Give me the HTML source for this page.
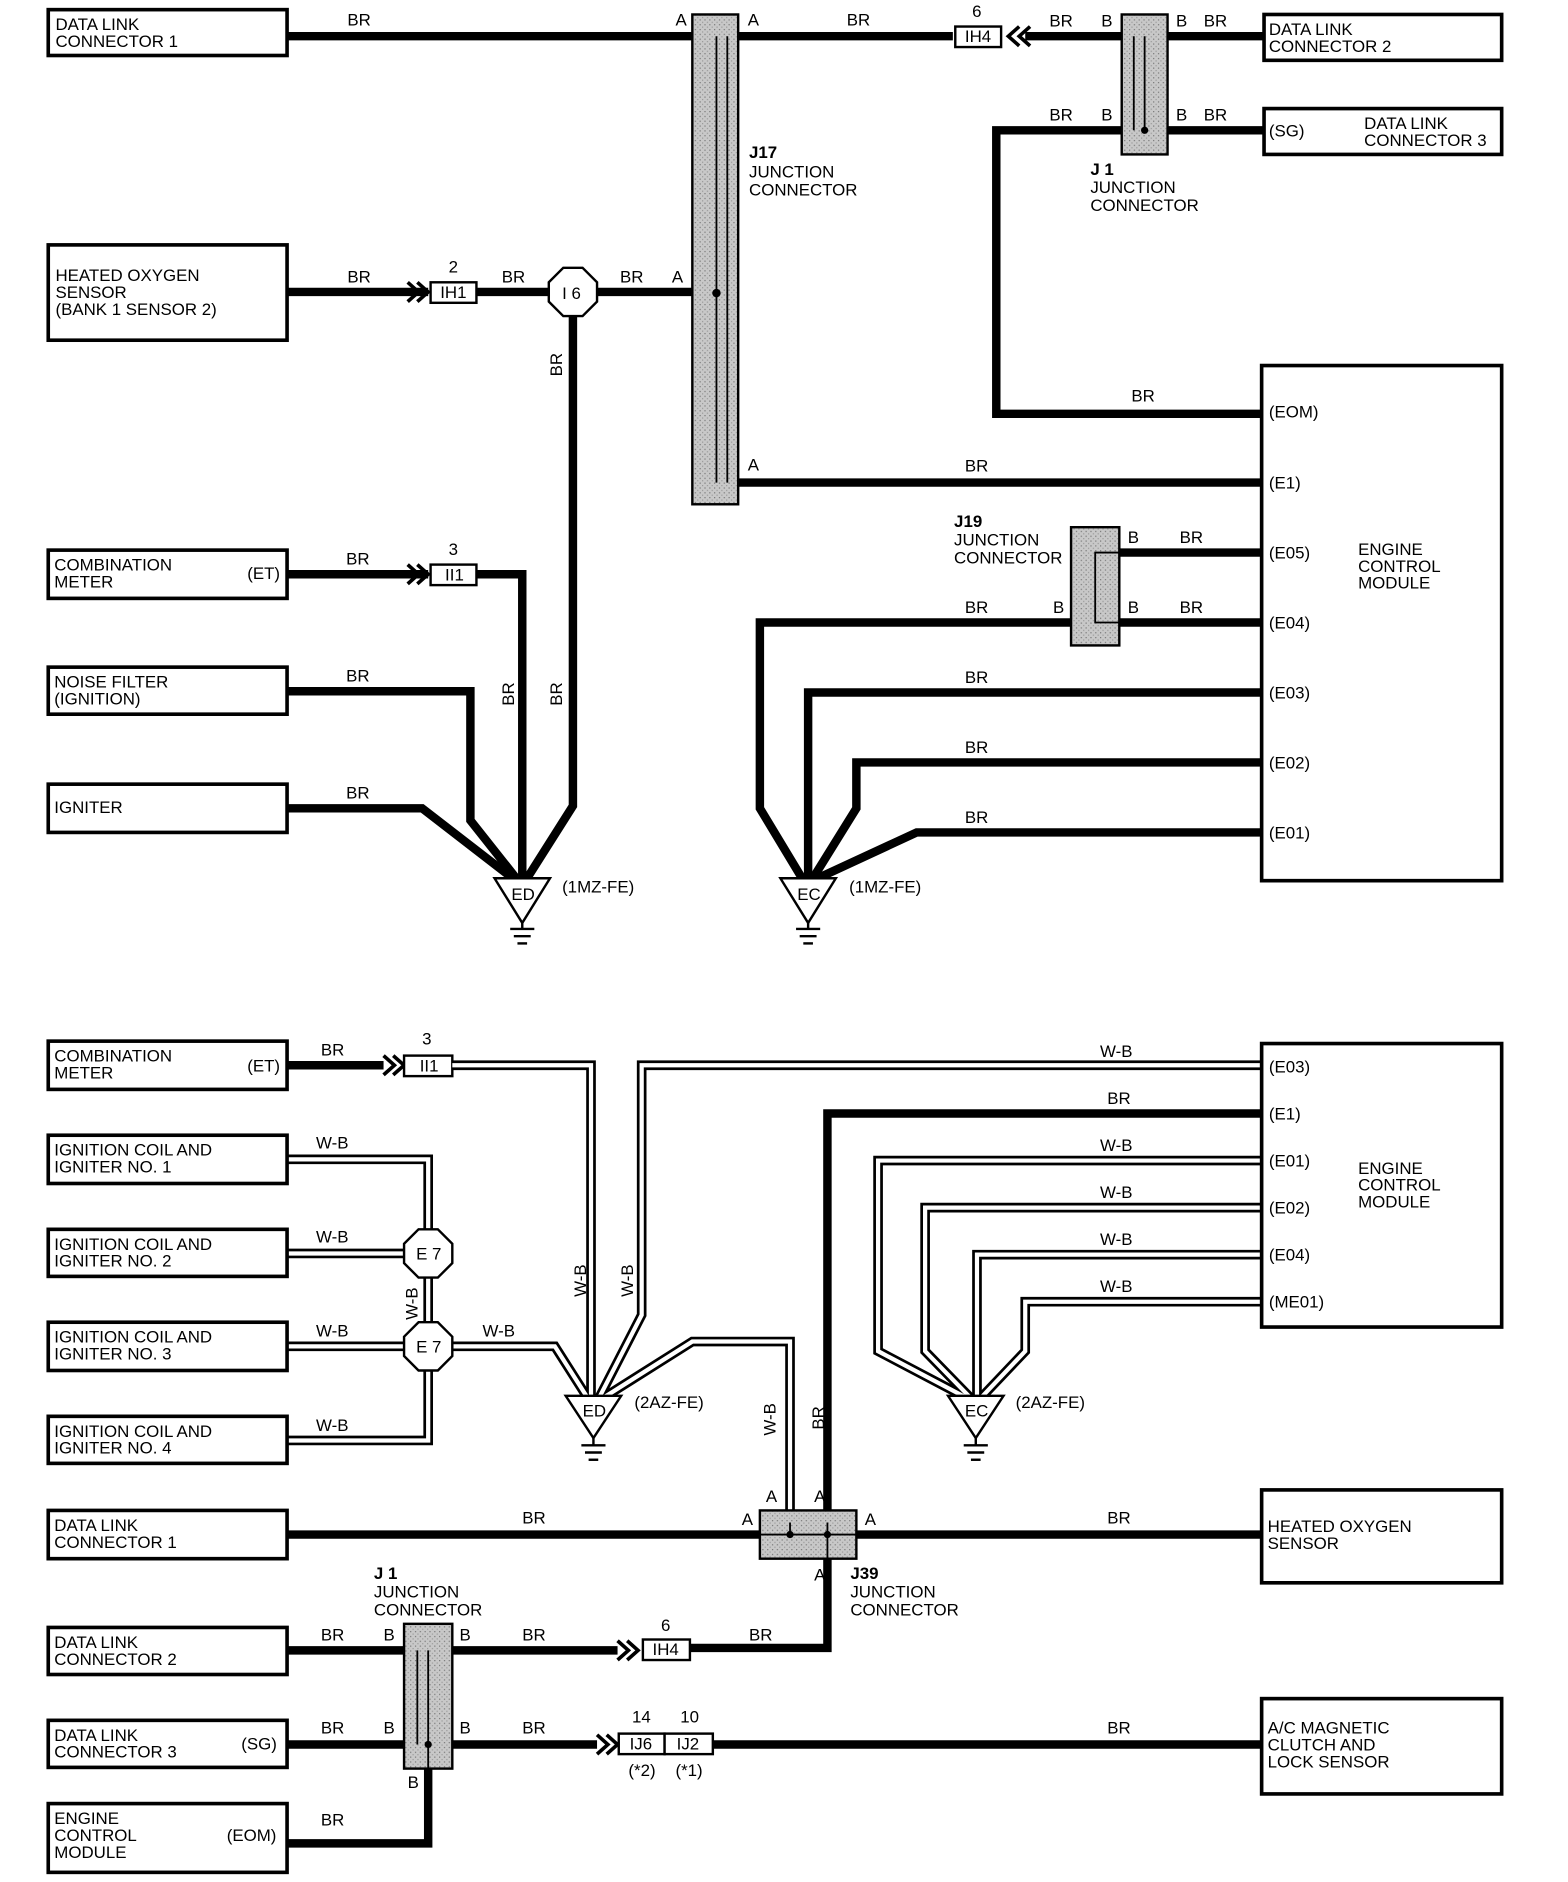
<!DOCTYPE html>
<html><head><meta charset="utf-8"><style>
html,body{margin:0;padding:0;background:#fff}
svg{display:block}
text{font-family:"Liberation Sans",sans-serif;font-size:14px;fill:#000}
.w{fill:none;stroke:#000;stroke-width:7;stroke-linejoin:miter}
.ho{fill:none;stroke:#000;stroke-width:8}
.hi{fill:none;stroke:#fff;stroke-width:3.5}
.bx{fill:#fff;stroke:#000;stroke-width:3}
.sb{fill:#fff;stroke:#000;stroke-width:2}
.jc{fill:url(#hat);stroke:#000;stroke-width:2}
.th{fill:none;stroke:#000;stroke-width:1.5}
.ch{fill:none;stroke:#000;stroke-width:3}
b{font-weight:bold}
</style></head><body>
<svg width="1568" height="1882" viewBox="0 0 1300 1560" preserveAspectRatio="none" xmlns="http://www.w3.org/2000/svg">
<defs>
<pattern id="hat" width="4" height="4" patternUnits="userSpaceOnUse"><rect width="4" height="4" fill="#c8c8c8"/><rect width="1" height="1" fill="#777"/><rect x="2" y="2" width="1" height="1" fill="#999"/></pattern>
<g id="gnd"><line x1="-10" y1="0" x2="10" y2="0" stroke="#000" stroke-width="2"/><line x1="-7" y1="6" x2="7" y2="6" stroke="#000" stroke-width="2"/><line x1="-4" y1="12" x2="4" y2="12" stroke="#000" stroke-width="2"/></g>
<path id="h1" d="M375 883 H490 V1160"/>
<path id="h2" d="M1046 883 H532 V1090 L496 1160"/>
<path id="h3" d="M238 961 H355 V1020"/>
<path id="h4" d="M238 1039 H335"/>
<path id="h5" d="M238 1116 H335"/>
<path id="h6" d="M238 1194 H355 V1136"/>
<path id="h7" d="M355 1059 V1096"/>
<path id="h8" d="M375 1116 H460 L488 1160"/>
<path id="h9" d="M498 1160 L574 1112 H655 V1262"/>
<path id="h10" d="M1046 962 H728 V1120 L804 1160"/>
<path id="h11" d="M1046 1001 H767 V1120 L806 1160"/>
<path id="h12" d="M1046 1040 H810 V1160"/>
<path id="h13" d="M1046 1079 H850 V1120 L812 1160"/>
</defs>

<!-- ===== TOP ===== -->
<path class="w" d="M238 30 H594"/>
<path class="w" d="M612 30 H790"/>
<path class="w" d="M850 30 H930 M968 30 H1048"/>
<path class="w" d="M930 108 H826 V343 H1046 M968 108 H1048"/>
<path class="w" d="M238 242 H355 M395 242 H455 M495 242 H594"/>
<path class="w" d="M475 262 V668 L437 728"/>
<path class="w" d="M612 400 H1046"/>
<path class="w" d="M238 476 H355 M395 476 H433 V728"/>
<path class="w" d="M238 573 H390 V680 L428 728"/>
<path class="w" d="M238 670 H350 L425 728"/>
<path class="w" d="M928 458 H1046 M928 516 H1046 M888 516 H630 V670 L665 728"/>
<path class="w" d="M1046 574 H670 V728"/>
<path class="w" d="M1046 632 H710 V670 L674 728"/>
<path class="w" d="M1046 690 H760 L678 728"/>

<rect class="jc" x="574" y="12" width="38" height="406"/>
<line class="th" x1="594" y1="30" x2="594" y2="400"/><line class="th" x1="603" y1="30" x2="603" y2="400"/>
<circle cx="594" cy="243" r="3.5"/>
<rect class="jc" x="930" y="12" width="38" height="116"/>
<line class="th" x1="940" y1="30" x2="940" y2="108"/><line class="th" x1="949" y1="30" x2="949" y2="108"/>
<circle cx="949" cy="108" r="3"/>
<rect class="jc" x="888" y="437" width="40" height="98"/>
<path class="th" d="M928 458 H908 V516 H928"/>

<rect class="sb" x="792" y="22" width="38" height="17"/><text x="800" y="35">IH4</text><text x="806" y="14">6</text>
<path class="ch" d="M845 22 L836 30 L845 38 M854 22 L845 30 L854 38"/>
<rect class="sb" x="357" y="234" width="38" height="17"/><text x="365" y="247">IH1</text><text x="372" y="226">2</text>
<path class="ch" d="M338 234 L347 242 L338 250 M346 234 L355 242 L346 250"/>
<rect class="sb" x="357" y="468" width="38" height="17"/><text x="369" y="481">II1</text><text x="372" y="460">3</text>
<path class="ch" d="M338 468 L347 476 L338 484 M346 468 L355 476 L346 484"/>
<polygon class="sb" points="467,222 483,222 495,234 495,250 483,262 467,262 455,250 455,234"/><text x="466" y="248">I 6</text>

<rect class="bx" x="40" y="8" width="198" height="38"/><text x="46" y="25">DATA LINK</text><text x="46" y="39">CONNECTOR 1</text>
<rect class="bx" x="1048" y="12" width="197" height="38"/><text x="1052" y="29">DATA LINK</text><text x="1052" y="43">CONNECTOR 2</text>
<rect class="bx" x="1048" y="90" width="197" height="38"/><text x="1052" y="113">(SG)</text><text x="1131" y="107">DATA LINK</text><text x="1131" y="121">CONNECTOR 3</text>
<rect class="bx" x="40" y="203" width="198" height="79"/><text x="46" y="233">HEATED OXYGEN</text><text x="46" y="247">SENSOR</text><text x="46" y="261">(BANK 1 SENSOR 2)</text>
<rect class="bx" x="40" y="456" width="198" height="40"/><text x="45" y="473">COMBINATION</text><text x="45" y="487">METER</text><text x="205" y="480">(ET)</text>
<rect class="bx" x="40" y="553" width="198" height="39"/><text x="45" y="570">NOISE FILTER</text><text x="45" y="584">(IGNITION)</text>
<rect class="bx" x="40" y="650" width="198" height="40"/><text x="45" y="674">IGNITER</text>
<rect class="bx" x="1046" y="303" width="199" height="427"/>
<text x="1052" y="346">(EOM)</text><text x="1052" y="405">(E1)</text><text x="1052" y="463">(E05)</text><text x="1052" y="521">(E04)</text><text x="1052" y="579">(E03)</text><text x="1052" y="637">(E02)</text><text x="1052" y="695">(E01)</text>
<text x="1126" y="460">ENGINE</text><text x="1126" y="474">CONTROL</text><text x="1126" y="488">MODULE</text>

<text x="288" y="21">BR</text><text x="560" y="21">A</text><text x="620" y="21">A</text><text x="702" y="21">BR</text>
<text x="870" y="22">BR</text><text x="913" y="22">B</text><text x="975" y="22">B</text><text x="998" y="22">BR</text>
<text x="870" y="100">BR</text><text x="913" y="100">B</text><text x="975" y="100">B</text><text x="998" y="100">BR</text>
<text x="904" y="145" font-weight="bold">J 1</text><text x="904" y="160">JUNCTION</text><text x="904" y="175">CONNECTOR</text>
<text x="621" y="131" font-weight="bold">J17</text><text x="621" y="147">JUNCTION</text><text x="621" y="162">CONNECTOR</text>
<text x="288" y="234">BR</text><text x="416" y="234">BR</text><text x="514" y="234">BR</text><text x="557" y="234">A</text>
<text x="938" y="333">BR</text><text x="620" y="390">A</text><text x="800" y="391">BR</text>
<text x="791" y="437" font-weight="bold">J19</text><text x="791" y="452">JUNCTION</text><text x="791" y="467">CONNECTOR</text>
<text x="935" y="450">B</text><text x="978" y="450">BR</text><text x="935" y="508">B</text><text x="978" y="508">BR</text><text x="873" y="508">B</text><text x="800" y="508">BR</text>
<text x="800" y="566">BR</text><text x="800" y="624">BR</text><text x="800" y="682">BR</text>
<text x="287" y="468">BR</text><text x="287" y="565">BR</text><text x="287" y="662">BR</text>
<text transform="translate(466,312) rotate(-90)">BR</text>
<text transform="translate(426,585) rotate(-90)">BR</text><text transform="translate(466,585) rotate(-90)">BR</text>

<polygon class="sb" points="410,728 456,728 433,765"/><text x="424" y="746">ED</text><use href="#gnd" x="433" y="770"/><line x1="433" y1="765" x2="433" y2="770" stroke="#000" stroke-width="2"/>
<text x="466" y="740">(1MZ-FE)</text>
<polygon class="sb" points="647,728 693,728 670,765"/><text x="661" y="746">EC</text><use href="#gnd" x="670" y="770"/><line x1="670" y1="765" x2="670" y2="770" stroke="#000" stroke-width="2"/>
<text x="704" y="740">(1MZ-FE)</text>

<!-- ===== BOTTOM ===== -->
<path class="w" d="M238 883 H318"/>
<path class="ch" d="M318 875 L327 883 L318 891 M326 875 L335 883 L326 891"/>
<rect class="sb" x="335" y="875" width="40" height="17"/><text x="348" y="888">II1</text><text x="350" y="866">3</text>
<g class="ho"><use href="#h1"/><use href="#h2"/><use href="#h3"/><use href="#h4"/><use href="#h5"/><use href="#h6"/><use href="#h7"/><use href="#h8"/><use href="#h9"/><use href="#h10"/><use href="#h11"/><use href="#h12"/><use href="#h13"/></g>
<g class="hi"><use href="#h1"/><use href="#h2"/><use href="#h3"/><use href="#h4"/><use href="#h5"/><use href="#h6"/><use href="#h7"/><use href="#h8"/><use href="#h9"/><use href="#h10"/><use href="#h11"/><use href="#h12"/><use href="#h13"/></g>
<path class="w" d="M1046 923 H686 V1262"/>
<path class="w" d="M238 1272 H630 M710 1272 H1046"/>
<path class="w" d="M686 1292 V1366 H572"/>
<path class="w" d="M238 1368 H335 M375 1368 H512"/>
<path class="w" d="M238 1446 H335 M375 1446 H495 M591 1446 H1046"/>
<path class="w" d="M355 1466 V1528 H238"/>
<path class="ch" d="M512 1360 L521 1368 L512 1376 M520 1360 L529 1368 L520 1376"/>
<path class="ch" d="M495 1438 L504 1446 L495 1454 M503 1438 L512 1446 L503 1454"/>

<polygon class="sb" points="347,1019 363,1019 375,1031 375,1047 363,1059 347,1059 335,1047 335,1031"/><text x="345" y="1044">E 7</text>
<polygon class="sb" points="347,1096 363,1096 375,1108 375,1124 363,1136 347,1136 335,1124 335,1108"/><text x="345" y="1121">E 7</text>

<rect class="jc" x="630" y="1252" width="80" height="40"/>
<path class="th" d="M630 1272 H710 M655 1262 V1272 M686 1262 V1292"/><circle cx="655" cy="1272" r="3"/><circle cx="686" cy="1272" r="3"/>
<rect class="jc" x="335" y="1346" width="40" height="120"/>
<line class="th" x1="346" y1="1368" x2="346" y2="1446"/><line class="th" x1="355" y1="1368" x2="355" y2="1466"/>
<circle cx="355" cy="1446" r="3"/>

<rect class="sb" x="533" y="1359" width="39" height="17"/><text x="541" y="1372">IH4</text><text x="548" y="1352">6</text>
<rect class="sb" x="513" y="1437" width="38" height="17"/><text x="522" y="1450">IJ6</text>
<rect class="sb" x="551" y="1437" width="40" height="17"/><text x="561" y="1450">IJ2</text>
<text x="524" y="1428">14</text><text x="564" y="1428">10</text><text x="521" y="1472">(*2)</text><text x="560" y="1472">(*1)</text>

<rect class="bx" x="40" y="863" width="198" height="40"/><text x="45" y="880">COMBINATION</text><text x="45" y="894">METER</text><text x="205" y="888">(ET)</text>
<rect class="bx" x="40" y="941" width="198" height="40"/><text x="45" y="958">IGNITION COIL AND</text><text x="45" y="972">IGNITER NO. 1</text>
<rect class="bx" x="40" y="1019" width="198" height="39"/><text x="45" y="1036">IGNITION COIL AND</text><text x="45" y="1050">IGNITER NO. 2</text>
<rect class="bx" x="40" y="1096" width="198" height="40"/><text x="45" y="1113">IGNITION COIL AND</text><text x="45" y="1127">IGNITER NO. 3</text>
<rect class="bx" x="40" y="1174" width="198" height="39"/><text x="45" y="1191">IGNITION COIL AND</text><text x="45" y="1205">IGNITER NO. 4</text>
<rect class="bx" x="40" y="1252" width="198" height="40"/><text x="45" y="1269">DATA LINK</text><text x="45" y="1283">CONNECTOR 1</text>
<rect class="bx" x="40" y="1349" width="198" height="39"/><text x="45" y="1366">DATA LINK</text><text x="45" y="1380">CONNECTOR 2</text>
<rect class="bx" x="40" y="1426" width="198" height="39"/><text x="45" y="1443">DATA LINK</text><text x="45" y="1457">CONNECTOR 3</text><text x="200" y="1450">(SG)</text>
<rect class="bx" x="40" y="1495" width="198" height="57"/><text x="45" y="1512">ENGINE</text><text x="45" y="1526">CONTROL</text><text x="45" y="1540">MODULE</text><text x="188" y="1526">(EOM)</text>
<rect class="bx" x="1046" y="865" width="199" height="235"/>
<text x="1052" y="889">(E03)</text><text x="1052" y="928">(E1)</text><text x="1052" y="967">(E01)</text><text x="1052" y="1006">(E02)</text><text x="1052" y="1045">(E04)</text><text x="1052" y="1084">(ME01)</text>
<text x="1126" y="973">ENGINE</text><text x="1126" y="987">CONTROL</text><text x="1126" y="1001">MODULE</text>
<rect class="bx" x="1046" y="1235" width="199" height="77"/><text x="1051" y="1270">HEATED OXYGEN</text><text x="1051" y="1284">SENSOR</text>
<rect class="bx" x="1046" y="1408" width="199" height="79"/><text x="1051" y="1437">A/C MAGNETIC</text><text x="1051" y="1451">CLUTCH AND</text><text x="1051" y="1465">LOCK SENSOR</text>

<text x="266" y="875">BR</text><text x="912" y="876">W-B</text><text x="918" y="915">BR</text>
<text x="912" y="954">W-B</text><text x="912" y="993">W-B</text><text x="912" y="1032">W-B</text><text x="912" y="1071">W-B</text>
<text x="262" y="952">W-B</text><text x="262" y="1030">W-B</text><text x="262" y="1108">W-B</text><text x="262" y="1186">W-B</text>
<text x="400" y="1108">W-B</text>
<text transform="translate(346,1094) rotate(-90)">W-B</text>
<text transform="translate(486,1075) rotate(-90)">W-B</text><text transform="translate(525,1075) rotate(-90)">W-B</text>
<text transform="translate(643,1190) rotate(-90)">W-B</text><text transform="translate(683,1185) rotate(-90)">BR</text>
<polygon class="sb" points="469,1157 515,1157 492,1192"/><text x="483" y="1174">ED</text><use href="#gnd" x="492" y="1198"/><line x1="492" y1="1192" x2="492" y2="1198" stroke="#000" stroke-width="2"/>
<text x="526" y="1167">(2AZ-FE)</text>
<polygon class="sb" points="786,1157 832,1157 809,1192"/><text x="800" y="1174">EC</text><use href="#gnd" x="809" y="1198"/><line x1="809" y1="1192" x2="809" y2="1198" stroke="#000" stroke-width="2"/>
<text x="842" y="1167">(2AZ-FE)</text>
<text x="635" y="1245">A</text><text x="675" y="1245">A</text><text x="615" y="1264">A</text><text x="717" y="1264">A</text>
<text x="433" y="1263">BR</text><text x="918" y="1263">BR</text><text x="675" y="1310">A</text>
<text x="705" y="1309" font-weight="bold">J39</text><text x="705" y="1324">JUNCTION</text><text x="705" y="1339">CONNECTOR</text>
<text x="310" y="1309" font-weight="bold">J 1</text><text x="310" y="1324">JUNCTION</text><text x="310" y="1339">CONNECTOR</text>
<text x="266" y="1360">BR</text><text x="318" y="1360">B</text><text x="381" y="1360">B</text><text x="433" y="1360">BR</text><text x="621" y="1360">BR</text>
<text x="266" y="1437">BR</text><text x="318" y="1437">B</text><text x="381" y="1437">B</text><text x="433" y="1437">BR</text><text x="918" y="1437">BR</text>
<text x="338" y="1482">B</text><text x="266" y="1513">BR</text>
</svg>
</body></html>
